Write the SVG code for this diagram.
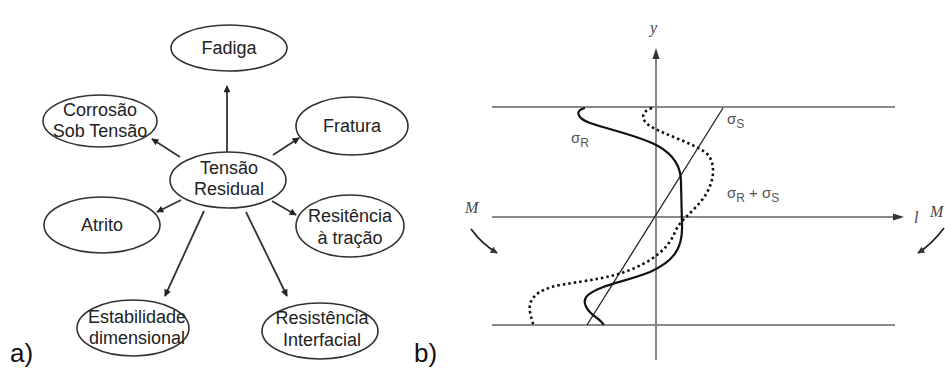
<svg xmlns="http://www.w3.org/2000/svg" width="945" height="369" viewBox="0 0 945 369">
<style>
.node ellipse{fill:#fff;stroke:#333;stroke-width:1.6}
.node text{font-family:"Liberation Sans",Arial,sans-serif;font-size:18px;fill:#222;text-anchor:middle}
.conn line{stroke:#333;stroke-width:1.8}
.lbl{font-family:"Liberation Sans",Arial,sans-serif;font-size:26px;fill:#111}
.ax{stroke:#888;stroke-width:2;fill:none}
.sig{font-family:"Liberation Sans",Arial,sans-serif;font-size:15px;fill:#555}
.it{font-family:"Liberation Serif","Times New Roman",serif;font-style:italic;font-size:16px;fill:#444}
</style>
<defs>
<marker id="ah" viewBox="0 0 10 10" refX="9" refY="5" markerWidth="10" markerHeight="7" markerUnits="userSpaceOnUse" orient="auto">
<path d="M0,0 L10,5 L0,10 z" fill="#222"/>
</marker>
<marker id="ag" viewBox="0 0 10 10" refX="9" refY="5" markerWidth="10" markerHeight="7" markerUnits="userSpaceOnUse" orient="auto">
<path d="M0,0 L10,5 L0,10 z" fill="#333"/>
</marker>
</defs>
<rect width="945" height="369" fill="#fff"/>

<!-- Part a -->
<g class="conn">
<line x1="227" y1="152" x2="227" y2="86" marker-end="url(#ah)"/>
<line x1="180" y1="157" x2="152" y2="139" marker-end="url(#ah)"/>
<line x1="273" y1="155" x2="299" y2="138" marker-end="url(#ah)"/>
<line x1="181" y1="200" x2="157" y2="212" marker-end="url(#ah)"/>
<line x1="272" y1="201" x2="296" y2="215" marker-end="url(#ah)"/>
<line x1="204" y1="211" x2="165" y2="296" marker-end="url(#ah)"/>
<line x1="246" y1="212" x2="287" y2="296" marker-end="url(#ah)"/>
</g>
<g id="fadiga" class="node"><ellipse cx="229" cy="48" rx="58" ry="23"/><text x="229" y="54">Fadiga</text></g>
<g id="corrosao" class="node"><ellipse cx="100" cy="121" rx="57" ry="26"/><text x="100" y="116">Corrosão</text><text x="100" y="137">Sob Tensão</text></g>
<g id="fratura" class="node"><ellipse cx="352" cy="126" rx="56" ry="29"/><text x="352" y="132">Fratura</text></g>
<g id="tensao" class="node"><ellipse cx="228" cy="180" rx="58" ry="28"/><text x="229" y="174">Tensão</text><text x="229" y="195">Residual</text></g>
<g id="atrito" class="node"><ellipse cx="102" cy="225" rx="58" ry="28"/><text x="102" y="231">Atrito</text></g>
<g id="resitencia" class="node"><ellipse cx="350" cy="226" rx="54" ry="31"/><text x="350" y="222">Resitência</text><text x="350" y="244">à tração</text></g>
<g id="estabilidade" class="node"><ellipse cx="133" cy="328" rx="56" ry="28"/><text x="137" y="323">Estabilidade</text><text x="137" y="344">dimensional</text></g>
<g id="interfacial" class="node"><ellipse cx="320" cy="331" rx="58" ry="28"/><text x="322" y="324">Resistência</text><text x="322" y="346">Interfacial</text></g>
<text class="lbl" x="10" y="362">a)</text>
<text class="lbl" x="414" y="362">b)</text>

<!-- Part b -->
<g id="axes">
<line class="ax" x1="656" y1="58" x2="656" y2="360"/>
<path d="M656,48 L652.5,59 L659.5,59 z" fill="#333"/>
<line class="ax" x1="492" y1="107" x2="895" y2="107"/>
<line class="ax" x1="492" y1="217" x2="894" y2="217"/>
<path d="M904,217 L893,213.5 L893,220.5 z" fill="#333"/>
<line class="ax" x1="492" y1="325" x2="895" y2="325"/>
</g>
<g id="curves" fill="none">
<line x1="723" y1="108" x2="587" y2="325" stroke="#222" stroke-width="1.3"/>
<path d="M585,108 C575,110 576,118 590,123 C610,130 640,136 658,146 C676,156 681,170 681,182 L682,225 C683,250 672,262 650,272 C625,282 600,285 588,295 C580,302 588,312 597,318 C601,321 603,324 604,325" stroke="#111" stroke-width="2.2"/>
<path d="M652,108 C640,112 641,120 650,126 C665,135 690,142 705,152 C718,162 714,185 702,200 C690,215 680,220 675,232 C668,250 650,262 630,270 C610,278 590,280 560,285 C535,290 528,300 530,312 C531,318 533,322 533,325" stroke="#111" stroke-width="2.6" stroke-dasharray="2.5 3"/>
</g>
<g id="moments" fill="none">
<path d="M471,229 Q482,244 497,253" stroke="#222" stroke-width="1.8" marker-end="url(#ag)"/>
<path d="M944,228 Q932,244 918,253" stroke="#222" stroke-width="1.8" marker-end="url(#ag)"/>
</g>
<g id="labels">
<text class="it" x="650" y="33">y</text>
<text class="it" x="914" y="223">l</text>
<text class="it" x="465" y="213">M</text>
<text class="it" x="930" y="217">M</text>
<text class="sig" x="727" y="124">σ<tspan font-size="12" dy="4">S</tspan></text>
<text class="sig" x="571" y="143">σ<tspan font-size="12" dy="4">R</tspan></text>
<text class="sig" x="727" y="198">σ<tspan font-size="12" dy="4">R</tspan><tspan dy="-4"> + σ</tspan><tspan font-size="12" dy="4">S</tspan></text>
</g>
</svg>
